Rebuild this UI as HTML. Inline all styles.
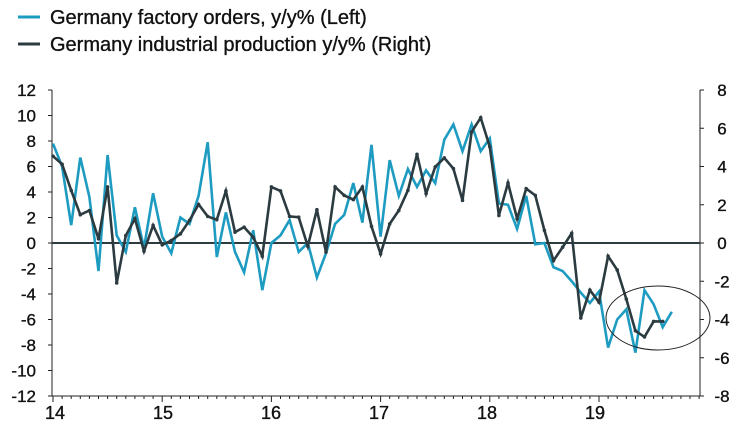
<!DOCTYPE html>
<html><head><meta charset="utf-8"><style>
html,body{margin:0;padding:0;background:#fff;}
svg{display:block;font-family:"Liberation Sans",sans-serif;}
text{fill:#111;stroke:#111;stroke-width:0.35px;}
</style></head><body>
<svg id="chart" width="756" height="442" viewBox="0 0 756 442" xmlns="http://www.w3.org/2000/svg">
<g id="legend">
<g>
<line x1="18" y1="17" x2="40" y2="17" stroke="#1e9bc1" stroke-width="3"/>
<text x="50" y="24" font-size="20">Germany factory orders, y/y% (Left)</text></g>
<g>
<line x1="18" y1="44" x2="40" y2="44" stroke="#2b3b40" stroke-width="3"/>
<text x="50" y="51" font-size="20">Germany industrial production y/y% (Right)</text></g>
</g>
<g id="axes"></g>
<g id="series"></g>
<ellipse cx="658" cy="318" rx="52" ry="32" fill="none" stroke="#222" stroke-width="1"/>
</svg>
<script>
const orders = [7.8,6.0,1.4,6.7,3.6,-2.2,6.9,0.6,-0.7,2.8,-0.4,3.9,0.5,-0.8,2.0,1.5,3.7,7.9,-1.1,2.4,-0.7,-2.3,1.0,-3.7,0.0,0.6,1.8,-0.7,0.0,-2.7,-0.8,1.5,2.2,4.7,1.6,7.7,0.5,6.5,3.7,5.8,4.4,5.7,4.7,8.1,9.3,7.2,9.3,7.2,8.2,3.1,3.0,1.1,3.7,-0.1,0.0,-1.9,-2.2,-3.0,-3.9,-4.7,-3.8,-8.2,-6.0,-5.2,-8.6,-3.7,-4.8,-6.6,-5.4];
const production = [4.54,4.12,2.75,1.48,1.7,0.22,2.93,-2.09,0.39,1.27,-0.43,0.92,-0.1,0.13,0.48,1.18,2.02,1.39,1.22,2.72,0.57,0.83,0.3,-0.69,2.93,2.72,1.39,1.35,-0.17,1.74,-0.48,2.93,2.49,2.27,2.93,0.87,-0.57,1.0,1.7,2.75,4.64,2.58,3.98,4.45,3.89,2.23,5.81,6.55,5.03,1.44,3.14,1.27,2.84,2.49,0.66,-0.92,-0.22,0.51,-3.92,-2.46,-3.1,-0.69,-1.41,-2.93,-4.59,-4.91,-4.1,-4.1];
const leftTicks = [12,10,8,6,4,2,0,-2,-4,-6,-8,-10,-12];
const rightTicks = [8,6,4,2,0,-2,-4,-6,-8];
const yearLabels = ["14","15","16","17","18","19"];

const NS="http://www.w3.org/2000/svg";
const X0=52, X1=700, TOP=90, BOT=396;
const xMonth = i => 53 + i*9.1;
const yL = v => TOP + (12-v)/24*(BOT-TOP);
const yR = v => TOP + (8-v)/16*(BOT-TOP);
function mk(tag, attrs, parent){const e=document.createElementNS(NS,tag);for(const k in attrs)e.setAttribute(k,attrs[k]);parent.appendChild(e);return e;}
const axes=document.getElementById('axes'), series=document.getElementById('series');

const la=mk('line',{x1:X0,y1:TOP,x2:X0,y2:BOT,stroke:'#222','stroke-width':1},axes);


const ra=mk('line',{x1:X1,y1:TOP,x2:X1,y2:BOT,stroke:'#222','stroke-width':1},axes);


const ba=mk('line',{x1:X0,y1:BOT,x2:X1,y2:BOT,stroke:'#222','stroke-width':1},axes);



leftTicks.forEach(v=>{
  const y=yL(v);
  mk('line',{x1:X0-4,y1:y,x2:X0,y2:y,stroke:'#222'},axes);
  const t=mk('text',{x:36,y:y+6,'font-size':17,'text-anchor':'end'},axes);
  t.textContent=v;
  
  
});
rightTicks.forEach(v=>{
  const y=yR(v);
  mk('line',{x1:X1,y1:y,x2:X1+4,y2:y,stroke:'#222'},axes);
  const t=mk('text',{x:722,y:y+6,'font-size':17,'text-anchor':'middle'},axes);
  t.textContent=v;
  
  
});
for(let m=0;xMonth(m)<=X1;m++){
  const x=xMonth(m), major=m%12===0;
  mk('line',{x1:x,y1:BOT,x2:x,y2:BOT+(major?6:3),stroke:'#222'},axes);
}
yearLabels.forEach((lab,k)=>{
  const t=mk('text',{x:55+k*108,y:BOT+23,'font-size':18,'text-anchor':'middle'},axes);
  t.textContent=lab;
  
  
});

const zl=mk('line',{x1:X0,y1:yL(0),x2:X1,y2:yL(0),stroke:'#2b3b40','stroke-width':2},axes);



const po=mk('polyline',{points:orders.map((v,i)=>xMonth(i)+','+yL(v)).join(' '),fill:'none',stroke:'#1e9bc1','stroke-width':2.6,'stroke-linejoin':'miter'},series);


const pp=mk('polyline',{points:production.map((v,i)=>xMonth(i)+','+yR(v)).join(' '),fill:'none',stroke:'#2b3b40','stroke-width':2.6},series);


production.forEach((v,i)=>{
  const c=mk('circle',{cx:xMonth(i),cy:yR(v),r:1.8,fill:'#2b3b40'},series);
  
  
});
</script>
</body></html>
